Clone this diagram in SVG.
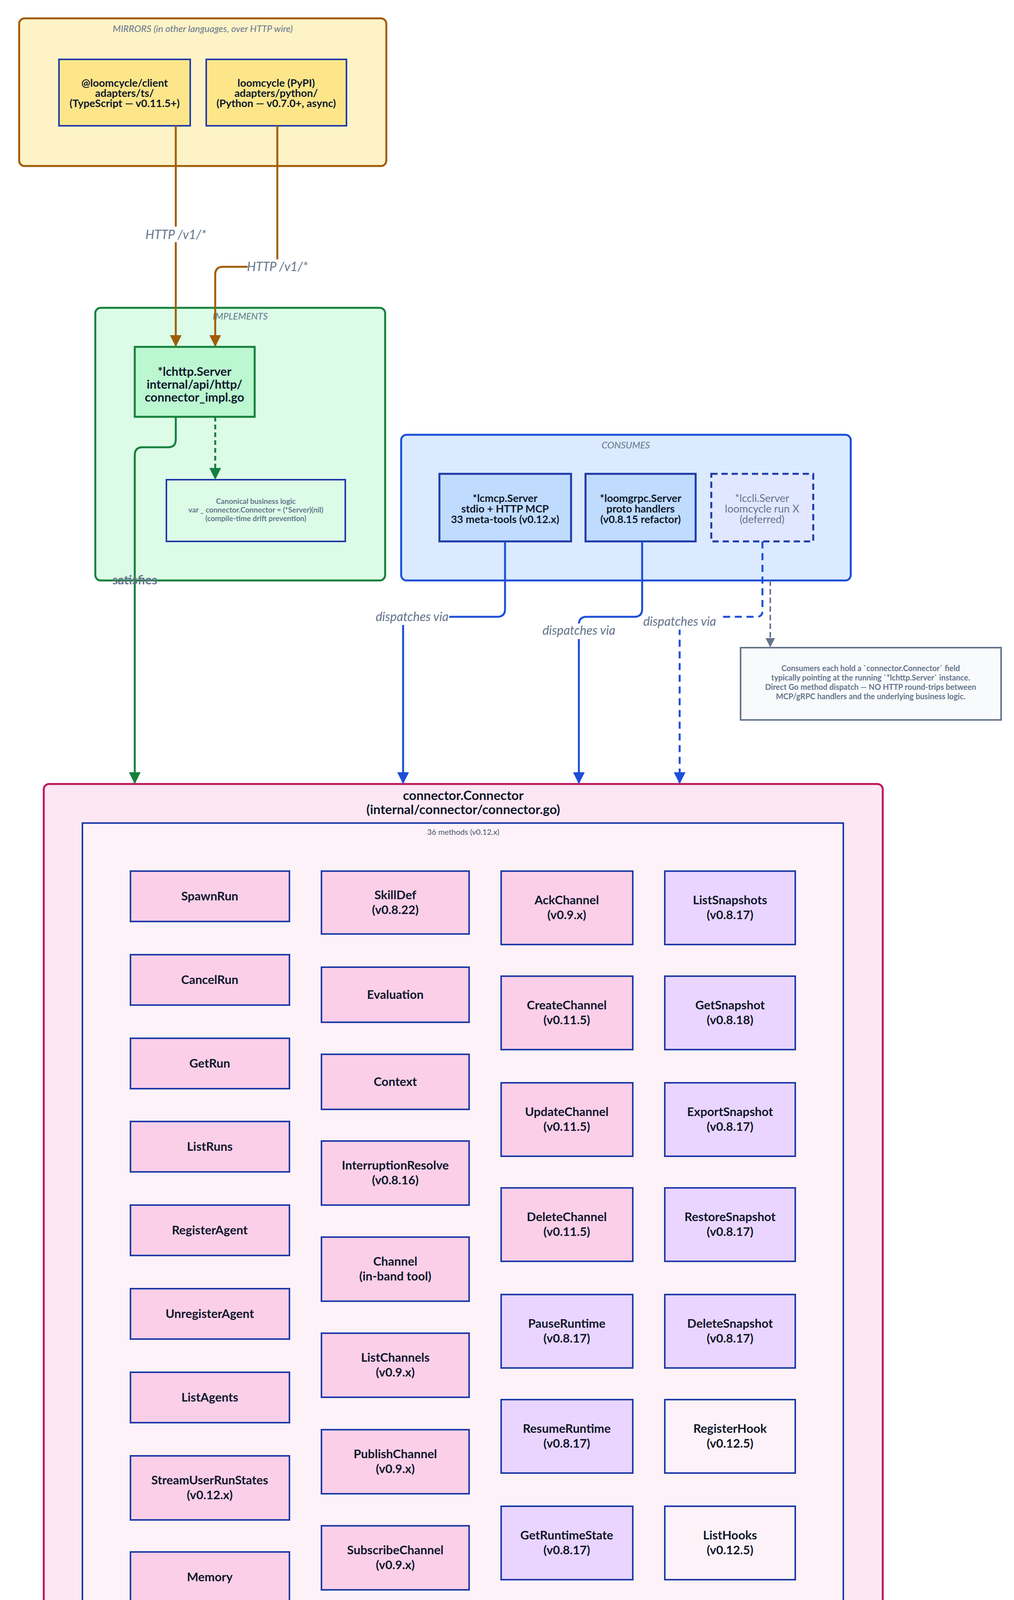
<svg xmlns="http://www.w3.org/2000/svg" width="2596" height="4552" viewBox="0 0 2596 4552">
<defs>
<style>
text{font-family:"Source Sans Pro",Lato,"Noto Sans",sans-serif;text-anchor:middle}
.t{font-size:27px;font-weight:700;fill:#0f172a}
.m{font-size:31px;font-weight:700;fill:#0f172a}
.g{font-size:24px;font-style:italic;fill:#64748b}
.lbl{font-size:32px;font-style:italic;fill:#64748b}
.pk{fill:#fbcfe8;stroke:#1e3aa8;stroke-width:4}
.lv{fill:#e9d5ff;stroke:#1e3aa8;stroke-width:4}
.wh{fill:#fdf2f8;stroke:#1e3aa8;stroke-width:4}
</style>
<marker id="ab" viewBox="0 0 10 10" refX="9" refY="5" markerWidth="6" markerHeight="6" orient="auto"><path d="M0,0L10,5L0,10z" fill="#a15c07"/></marker>
<marker id="ag" viewBox="0 0 10 10" refX="9" refY="5" markerWidth="6" markerHeight="6" orient="auto"><path d="M0,0L10,5L0,10z" fill="#15803d"/></marker>
<marker id="abl" viewBox="0 0 10 10" refX="9" refY="5" markerWidth="6" markerHeight="6" orient="auto"><path d="M0,0L10,5L0,10z" fill="#1d4ed8"/></marker>
<marker id="agr" viewBox="0 0 10 10" refX="9" refY="5" markerWidth="6" markerHeight="6" orient="auto"><path d="M0,0L10,5L0,10z" fill="#64748b"/></marker>
</defs>
<rect width="2596" height="4552" fill="#fff"/>

<g id="mirrors">
<rect x="49" y="47" width="940" height="378" rx="14" fill="#fef3c7" stroke="#a15c07" stroke-width="5"/>
<text class="g" x="519" y="82">MIRRORS (in other languages, over HTTP wire)</text>
</g>
<g id="ts"><rect x="151" y="152" width="336" height="170" fill="#fde68a" stroke="#1e3aa8" stroke-width="4"/>
<text class="t" x="319" y="222">@loomcycle/client</text><text class="t" x="319" y="248">adapters/ts/</text><text class="t" x="319" y="274">(TypeScript — v0.11.5+)</text></g>
<g id="py"><rect x="528" y="152" width="359" height="170" fill="#fde68a" stroke="#1e3aa8" stroke-width="4"/>
<text class="t" x="707" y="222">loomcycle (PyPI)</text><text class="t" x="707" y="248">adapters/python/</text><text class="t" x="707" y="274">(Python — v0.7.0+, async)</text></g>

<g id="implements">
<rect x="244" y="788" width="742" height="698" rx="14" fill="#dcfce7" stroke="#15803d" stroke-width="5"/>
<text class="g" x="615" y="818">IMPLEMENTS</text>
</g>
<g id="lchttp"><rect x="345" y="888" width="307" height="179" fill="#bbf7d0" stroke="#15803d" stroke-width="5"/>
<text class="m" x="498" y="962">*lchttp.Server</text><text class="m" x="498" y="995">internal/api/http/</text><text class="m" x="498" y="1028">connector_impl.go</text></g>
<g id="canonical"><rect x="426" y="1228" width="458" height="158" fill="#dcfce7" stroke="#1e3aa8" stroke-width="4"/>
<text x="655" y="1290" style="font-size:19px;font-weight:700;fill:#64748b">Canonical business logic</text>
<text x="655" y="1312" style="font-size:19px;font-weight:700;fill:#64748b">var _ connector.Connector = (*Server)(nil)</text>
<text x="655" y="1334" style="font-size:19px;font-weight:700;fill:#64748b">(compile-time drift prevention)</text></g>

<g id="consumes">
<rect x="1027" y="1113" width="1151" height="373" rx="14" fill="#dbeafe" stroke="#1d4ed8" stroke-width="5"/>
<text class="g" x="1602" y="1148">CONSUMES</text>
</g>
<g id="lcmcp"><rect x="1125" y="1213" width="337" height="173" fill="#bfdbfe" stroke="#1e3aa8" stroke-width="5"/>
<text class="t" x="1293" y="1285">*lcmcp.Server</text><text class="t" x="1293" y="1312">stdio + HTTP MCP</text><text class="t" x="1293" y="1339">33 meta-tools (v0.12.x)</text></g>
<g id="loomgrpc"><rect x="1499" y="1213" width="282" height="173" fill="#bfdbfe" stroke="#1e3aa8" stroke-width="5"/>
<text class="t" x="1640" y="1285">*loomgrpc.Server</text><text class="t" x="1640" y="1312">proto handlers</text><text class="t" x="1640" y="1339">(v0.8.15 refactor)</text></g>
<g id="lccli"><rect x="1821" y="1213" width="261" height="173" fill="#e0e7ff" stroke="#1e3aa8" stroke-width="5" stroke-dasharray="16,10"/>
<text x="1951" y="1285" style="font-size:27px;fill:#64748b">*lccli.Server</text><text x="1951" y="1312" style="font-size:27px;fill:#64748b">loomcycle run X</text><text x="1951" y="1339" style="font-size:27px;fill:#64748b">(deferred)</text></g>
<g id="note"><rect x="1896" y="1658" width="667" height="185" fill="#f8fafc" stroke="#64748b" stroke-width="4"/>
<g style="font-size:20px;font-weight:700;fill:#64748b">
<text x="2229" y="1718">Consumers each hold a `connector.Connector` field</text>
<text x="2229" y="1742">typically pointing at the running `*lchttp.Server` instance.</text>
<text x="2229" y="1766">Direct Go method dispatch — NO HTTP round-trips between</text>
<text x="2229" y="1790">MCP/gRPC handlers and the underlying business logic.</text></g></g>

<g id="connector">
<rect x="112" y="2007" width="2148" height="2531" rx="14" fill="#fce7f3" stroke="#be185d" stroke-width="5"/>
<text x="1186" y="2048" style="font-size:33px;font-weight:700;fill:#0f172a">connector.Connector</text>
<text x="1186" y="2084" style="font-size:33px;font-weight:700;fill:#0f172a">(internal/connector/connector.go)</text>
<rect x="211" y="2107" width="1948" height="2332" fill="#fdf2f8" stroke="#1e3aa8" stroke-width="4"/>
<text x="1186" y="2137" style="font-size:20px;fill:#475569">36 methods (v0.12.x)</text>
</g>

<g id="methods">
<g id="m-SpawnRun"><rect class="pk" x="334" y="2230" width="407" height="129"/><text class="m" x="537" y="2305">SpawnRun</text></g>
<g id="m-CancelRun"><rect class="pk" x="334" y="2444" width="407" height="129"/><text class="m" x="537" y="2519">CancelRun</text></g>
<g id="m-GetRun"><rect class="pk" x="334" y="2658" width="407" height="129"/><text class="m" x="537" y="2733">GetRun</text></g>
<g id="m-ListRuns"><rect class="pk" x="334" y="2871" width="407" height="129"/><text class="m" x="537" y="2946">ListRuns</text></g>
<g id="m-RegisterAgent"><rect class="pk" x="334" y="3085" width="407" height="129"/><text class="m" x="537" y="3160">RegisterAgent</text></g>
<g id="m-UnregisterAgent"><rect class="pk" x="334" y="3299" width="407" height="129"/><text class="m" x="537" y="3374">UnregisterAgent</text></g>
<g id="m-ListAgents"><rect class="pk" x="334" y="3513" width="407" height="129"/><text class="m" x="537" y="3588">ListAgents</text></g>
<g id="m-StreamUserRunStates"><rect class="pk" x="334" y="3727" width="407" height="164"/><text class="m" x="537" y="3800">StreamUserRunStates</text><text class="m" x="537" y="3838">(v0.12.x)</text></g>
<g id="m-Memory"><rect class="pk" x="334" y="3973" width="407" height="129"/><text class="m" x="537" y="4048">Memory</text></g>
<g id="m-AgentDef"><rect class="pk" x="334" y="4187" width="407" height="129"/><text class="m" x="537" y="4262">AgentDef</text></g>

<g id="m-SkillDef"><rect class="pk" x="823" y="2230" width="378" height="161"/><text class="m" x="1012" y="2302">SkillDef</text><text class="m" x="1012" y="2340">(v0.8.22)</text></g>
<g id="m-Evaluation"><rect class="pk" x="823" y="2476" width="378" height="141"/><text class="m" x="1012" y="2557">Evaluation</text></g>
<g id="m-Context"><rect class="pk" x="823" y="2699" width="378" height="141"/><text class="m" x="1012" y="2780">Context</text></g>
<g id="m-InterruptionResolve"><rect class="pk" x="823" y="2921" width="378" height="164"/><text class="m" x="1012" y="2994">InterruptionResolve</text><text class="m" x="1012" y="3032">(v0.8.16)</text></g>
<g id="m-Channel"><rect class="pk" x="823" y="3167" width="378" height="164"/><text class="m" x="1012" y="3240">Channel</text><text class="m" x="1012" y="3278">(in-band tool)</text></g>
<g id="m-ListChannels"><rect class="pk" x="823" y="3413" width="378" height="164"/><text class="m" x="1012" y="3486">ListChannels</text><text class="m" x="1012" y="3524">(v0.9.x)</text></g>
<g id="m-PublishChannel"><rect class="pk" x="823" y="3660" width="378" height="164"/><text class="m" x="1012" y="3733">PublishChannel</text><text class="m" x="1012" y="3771">(v0.9.x)</text></g>
<g id="m-SubscribeChannel"><rect class="pk" x="823" y="3906" width="378" height="164"/><text class="m" x="1012" y="3979">SubscribeChannel</text><text class="m" x="1012" y="4017">(v0.9.x)</text></g>
<g id="m-PeekChannel"><rect class="pk" x="823" y="4152" width="378" height="164"/><text class="m" x="1012" y="4225">PeekChannel</text><text class="m" x="1012" y="4263">(v0.9.x)</text></g>

<g id="m-AckChannel"><rect class="pk" x="1283" y="2230" width="337" height="188"/><text class="m" x="1451" y="2315">AckChannel</text><text class="m" x="1451" y="2353">(v0.9.x)</text></g>
<g id="m-CreateChannel"><rect class="pk" x="1283" y="2499" width="337" height="188"/><text class="m" x="1451" y="2584">CreateChannel</text><text class="m" x="1451" y="2622">(v0.11.5)</text></g>
<g id="m-UpdateChannel"><rect class="pk" x="1283" y="2772" width="337" height="188"/><text class="m" x="1451" y="2857">UpdateChannel</text><text class="m" x="1451" y="2895">(v0.11.5)</text></g>
<g id="m-DeleteChannel"><rect class="pk" x="1283" y="3041" width="337" height="188"/><text class="m" x="1451" y="3126">DeleteChannel</text><text class="m" x="1451" y="3164">(v0.11.5)</text></g>
<g id="m-PauseRuntime"><rect class="lv" x="1283" y="3314" width="337" height="188"/><text class="m" x="1451" y="3399">PauseRuntime</text><text class="m" x="1451" y="3437">(v0.8.17)</text></g>
<g id="m-ResumeRuntime"><rect class="lv" x="1283" y="3583" width="337" height="188"/><text class="m" x="1451" y="3668">ResumeRuntime</text><text class="m" x="1451" y="3706">(v0.8.17)</text></g>
<g id="m-GetRuntimeState"><rect class="lv" x="1283" y="3856" width="337" height="188"/><text class="m" x="1451" y="3941">GetRuntimeState</text><text class="m" x="1451" y="3979">(v0.8.17)</text></g>
<g id="m-CreateSnapshot"><rect class="lv" x="1283" y="4125" width="337" height="188"/><text class="m" x="1451" y="4210">CreateSnapshot</text><text class="m" x="1451" y="4248">(v0.8.17)</text></g>

<g id="m-ListSnapshots"><rect class="lv" x="1702" y="2230" width="334" height="188"/><text class="m" x="1869" y="2315">ListSnapshots</text><text class="m" x="1869" y="2353">(v0.8.17)</text></g>
<g id="m-GetSnapshot"><rect class="lv" x="1702" y="2499" width="334" height="188"/><text class="m" x="1869" y="2584">GetSnapshot</text><text class="m" x="1869" y="2622">(v0.8.18)</text></g>
<g id="m-ExportSnapshot"><rect class="lv" x="1702" y="2772" width="334" height="188"/><text class="m" x="1869" y="2857">ExportSnapshot</text><text class="m" x="1869" y="2895">(v0.8.17)</text></g>
<g id="m-RestoreSnapshot"><rect class="lv" x="1702" y="3041" width="334" height="188"/><text class="m" x="1869" y="3126">RestoreSnapshot</text><text class="m" x="1869" y="3164">(v0.8.17)</text></g>
<g id="m-DeleteSnapshot"><rect class="lv" x="1702" y="3314" width="334" height="188"/><text class="m" x="1869" y="3399">DeleteSnapshot</text><text class="m" x="1869" y="3437">(v0.8.17)</text></g>
<g id="m-RegisterHook"><rect class="wh" x="1702" y="3583" width="334" height="188"/><text class="m" x="1869" y="3668">RegisterHook</text><text class="m" x="1869" y="3706">(v0.12.5)</text></g>
<g id="m-ListHooks"><rect class="wh" x="1702" y="3856" width="334" height="188"/><text class="m" x="1869" y="3941">ListHooks</text><text class="m" x="1869" y="3979">(v0.12.5)</text></g>
<g id="m-DeleteHook"><rect class="wh" x="1702" y="4125" width="334" height="188"/><text class="m" x="1869" y="4210">DeleteHook</text><text class="m" x="1869" y="4248">(v0.12.5)</text></g>
</g>

<g id="connectors" fill="none" stroke-width="5">
<path d="M450,322V885" stroke="#a15c07" marker-end="url(#ab)"/>
<path d="M710,322V683H571Q551,683 551,703V885" stroke="#a15c07" marker-end="url(#ab)"/>
<path d="M450,1067V1125Q450,1145 430,1145H365Q345,1145 345,1165V2004" stroke="#15803d" marker-end="url(#ag)"/>
<path d="M551,1067V1225" stroke="#15803d" stroke-dasharray="12,8" marker-end="url(#ag)"/>
<path d="M1293,1386V1559Q1293,1579 1273,1579H1052Q1032,1579 1032,1599V2004" stroke="#1d4ed8" marker-end="url(#abl)"/>
<path d="M1644,1386V1559Q1644,1579 1624,1579H1502Q1482,1579 1482,1599V2004" stroke="#1d4ed8" marker-end="url(#abl)"/>
<path d="M1952,1386V1564Q1952,1579 1937,1579H1760Q1740,1579 1740,1599V2004" stroke="#1d4ed8" stroke-dasharray="18,12" marker-end="url(#abl)"/>
<path d="M1972,1486V1655" stroke="#64748b" stroke-width="4" stroke-dasharray="14,8" marker-end="url(#agr)"/>
</g>
<g id="labels">
<rect x="370" y="580" width="160" height="40" fill="#fff"/><text class="lbl" x="450" y="612">HTTP /v1/*</text>
<rect x="634" y="664" width="150" height="40" fill="#fff"/><text class="lbl" x="710" y="694">HTTP /v1/*</text>
<text x="345" y="1496" style="font-size:32px;font-weight:700;fill:#64748b">satisfies</text>
<rect x="960" y="1560" width="190" height="40" fill="#fff"/><text class="lbl" x="1055" y="1590">dispatches via</text>
<rect x="1390" y="1596" width="190" height="40" fill="#fff"/><text class="lbl" x="1482" y="1625">dispatches via</text>
<rect x="1650" y="1572" width="190" height="40" fill="#fff"/><text class="lbl" x="1740" y="1602">dispatches via</text>
</g>
</svg>
